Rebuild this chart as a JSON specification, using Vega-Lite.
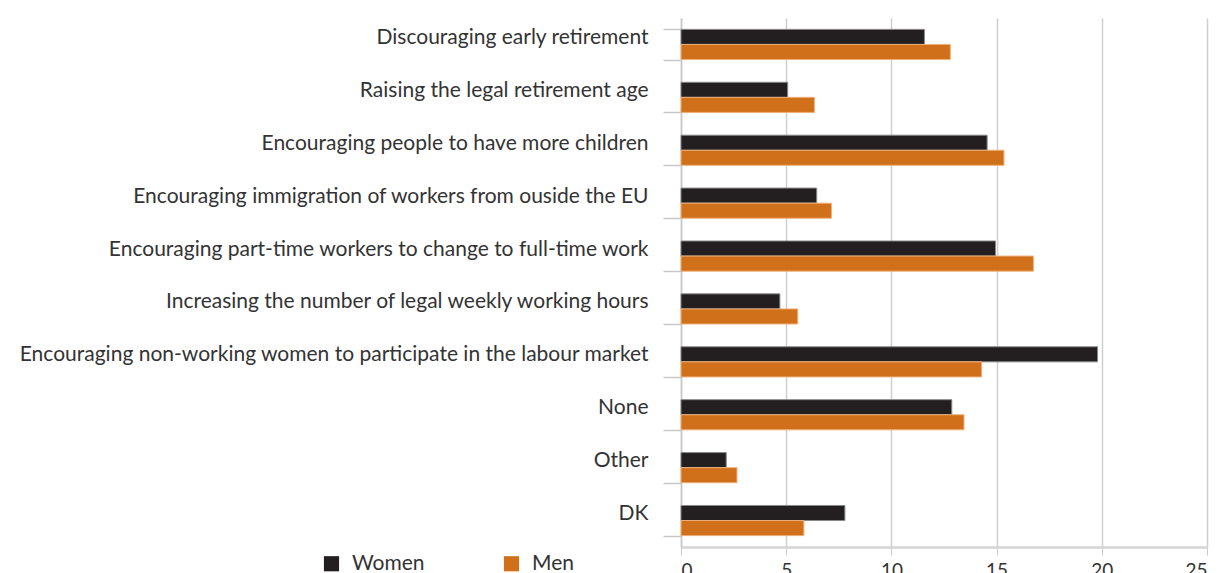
{
  "$schema": "https://vega.github.io/schema/vega-lite/v6.json",
  "width": 526,
  "height": 529,
  "autosize": "none",
  "padding": {"left": 681, "top": 18, "right": 10, "bottom": 26},
  "config": {"view": {"stroke": null}, "font": "Lato"},
  "data": {
    "values": [
      {"measure": "Discouraging early retirement", "sex": "Women", "value": 11.57},
      {"measure": "Discouraging early retirement", "sex": "Men", "value": 12.8},
      {"measure": "Raising the legal retirement age", "sex": "Women", "value": 5.07},
      {"measure": "Raising the legal retirement age", "sex": "Men", "value": 6.34},
      {"measure": "Encouraging people to have more children", "sex": "Women", "value": 14.55},
      {"measure": "Encouraging people to have more children", "sex": "Men", "value": 15.35},
      {"measure": "Encouraging immigration of workers from ouside the EU", "sex": "Women", "value": 6.45},
      {"measure": "Encouraging immigration of workers from ouside the EU", "sex": "Men", "value": 7.15},
      {"measure": "Encouraging part-time workers to change to full-time work", "sex": "Women", "value": 14.95},
      {"measure": "Encouraging part-time workers to change to full-time work", "sex": "Men", "value": 16.75},
      {"measure": "Increasing the number of legal weekly working hours", "sex": "Women", "value": 4.7},
      {"measure": "Increasing the number of legal weekly working hours", "sex": "Men", "value": 5.55},
      {"measure": "Encouraging non-working women to participate in the labour market", "sex": "Women", "value": 19.8},
      {"measure": "Encouraging non-working women to participate in the labour market", "sex": "Men", "value": 14.29},
      {"measure": "None", "sex": "Women", "value": 12.87},
      {"measure": "None", "sex": "Men", "value": 13.45},
      {"measure": "Other", "sex": "Women", "value": 2.15},
      {"measure": "Other", "sex": "Men", "value": 2.66},
      {"measure": "DK", "sex": "Women", "value": 7.79},
      {"measure": "DK", "sex": "Men", "value": 5.84}
    ]
  },
  "mark": {"type": "bar", "strokeWidth": 1},
  "encoding": {
    "y": {
      "field": "measure",
      "type": "nominal",
      "sort": null,
      "scale": {"paddingInner": 0.43, "paddingOuter": 0.215},
      "axis": {
        "title": null,
        "tickBand": "extent",
        "tickSize": 18,
        "tickColor": "#c8c8c8",
        "tickWidth": 1.5,
        "domainColor": "#c8c8c8",
        "domainWidth": 1.5,
        "labelFontSize": 21,
        "labelPadding": 15,
        "labelOffset": -7,
        "labelLimit": 700,
        "labelColor": "#333333",
        "grid": false
      }
    },
    "yOffset": {"field": "sex", "type": "nominal", "sort": ["Women", "Men"]},
    "x": {
      "field": "value",
      "type": "quantitative",
      "scale": {"domain": [0, 25], "nice": false},
      "axis": {
        "title": null,
        "values": [0, 5, 10, 15, 20, 25],
        "gridColor": "#cfcfcf",
        "gridWidth": 1.5,
        "domainColor": "#d5d5d5",
        "domainWidth": 2.5,
        "tickColor": "#cccccc",
        "tickSize": 8,
        "labelFontSize": 19,
        "labelPadding": 6,
        "labelColor": "#333333"
      }
    },
    "color": {
      "field": "sex",
      "type": "nominal",
      "scale": {"domain": ["Women", "Men"], "range": ["#231f20", "#d0701a"]},
      "legend": {
        "title": null,
        "orient": "none",
        "legendX": -360,
        "legendY": 535,
        "direction": "horizontal",
        "symbolType": "square",
        "symbolSize": 230,
        "symbolStrokeWidth": 0,
        "labelFontSize": 21,
        "labelColor": "#333333",
        "labelOffset": 10,
        "columnPadding": 76
      }
    },
    "stroke": {
      "field": "sex",
      "type": "nominal",
      "scale": {"domain": ["Women", "Men"], "range": ["#8a8a8a", "#eeb07a"]},
      "legend": null
    }
  }
}
